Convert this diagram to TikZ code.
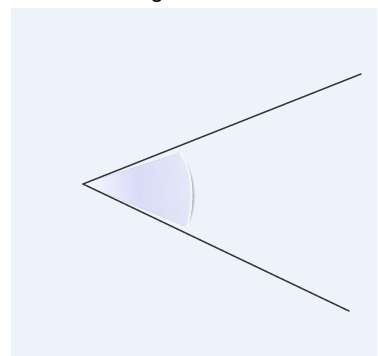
\documentclass[tikz,border=0pt]{standalone}
\usepackage{fontspec}
\setmainfont{Liberation Sans}
\definecolor{bgblue}{HTML}{EEF2FB}
\definecolor{raycol}{HTML}{38383F}
\definecolor{wedgeL}{HTML}{F8F9FE}
\definecolor{wedgeM}{HTML}{DADBF7}
\definecolor{wedgeR}{HTML}{E4E8F8}
\tikzset{
  ray/.style={draw=raycol, line width=1.4pt, line cap=round},
  rayshadow/.style={draw=black!13, line width=1.8pt, line cap=round},
}
\begin{document}
\begin{tikzpicture}[x=1pt,y=-1pt]
\useasboundingbox (0,0) rectangle (378,356);
\clip (0,0) rectangle (378,356);
\fill[white] (0,0) rectangle (378,356);
\fill[bgblue] (11,8) rectangle (377,356);
\node[anchor=base, font=\fontsize{24}{24}\selectfont, inner sep=0pt] (title) at (157,-2) {g};
\coordinate (V) at (83,184);
\coordinate (U) at (361,74);
\coordinate (L) at (349,311);
\coordinate (WT) at (180,153);
\coordinate (WB) at (187,227);
% wedge shadow
\foreach \d/\o in {5/0.05,4/0.07,3/0.09,2/0.11}{
  \fill[black, opacity=\o, shift={(\d,\d)}] (V) -- (WT) .. controls (194,170) and (194,205) .. (WB) -- cycle;
}
% wedge
\shade[left color=wedgeL, right color=wedgeR, middle color=wedgeM, shading angle=100]
  (V) -- (WT) .. controls (194,170) and (194,205) .. (WB) -- cycle;
\draw[white, line width=2pt, opacity=0.8] (WT) .. controls (194,170) and (194,205) .. (WB);
% ray shadows
\draw[rayshadow, shift={(1,2)}] (V) -- (U);
\draw[rayshadow, shift={(1,2)}] (V) -- (L);
% rays
\draw[ray] (V) -- (U);
\draw[ray] (V) -- (L);
\end{tikzpicture}
\end{document}
